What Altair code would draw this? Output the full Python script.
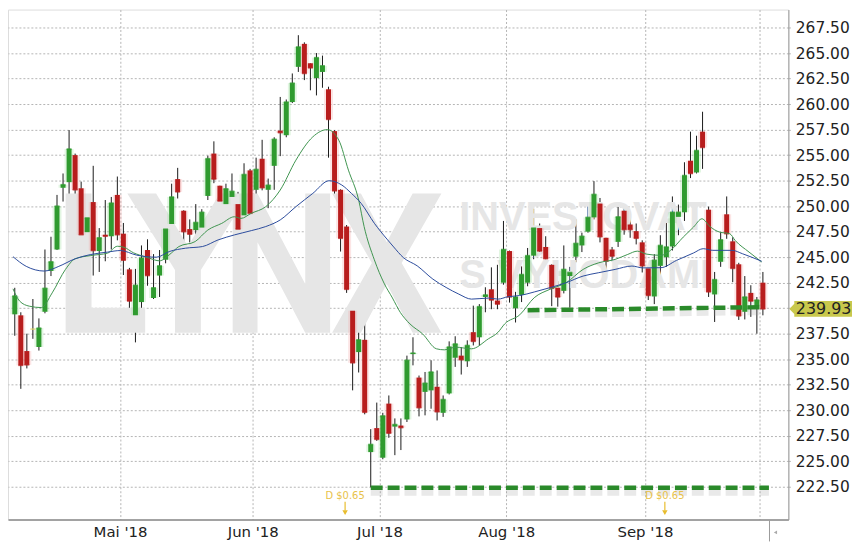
import altair as alt
import pandas as pd

# ---- OHLC data (trading-day index 0 = 5 Apr 2018) ----
opens = [239.4, 239.3, 235.8, 237.95, 236.2, 239.65, 243.65, 245.75, 251.8, 252.35,
         255.0, 251.75, 247.45, 250.4, 245.6, 247.2, 247.05, 251.1, 247.3, 243.8,
         239.3, 240.6, 245.7, 241.0, 243.2, 244.75, 248.25, 252.65, 249.55, 247.75,
         247.65, 247.9, 251.0, 255.15, 252.0, 250.2, 250.9, 250.2, 249.1, 253.5,
         251.6, 254.65, 251.6, 253.95, 257.4, 256.95, 260.2, 263.65, 265.9, 264.0,
         262.55, 263.15, 261.45, 257.35, 251.6, 248.0, 239.75, 235.7, 236.9, 225.9,
         228.25, 225.35, 230.65, 228.4, 228.5, 229.1, 235.5, 233.2, 231.8, 231.95,
         232.3, 229.75, 231.65, 235.15, 235.35, 234.8, 237.65, 237.15, 241.1, 241.85,
         240.75, 242.5, 245.6, 240.0, 241.3, 242.5, 245.15, 247.85, 246.0, 244.25,
         242.0, 241.7, 243.15, 245.05, 246.15, 247.5, 248.9, 250.25, 246.9, 245.75,
         246.5, 249.55, 248.2, 247.55, 246.45, 243.9, 241.15, 244.15, 245.0, 246.05,
         248.95, 249.4, 254.45, 253.3, 257.3, 249.65, 241.35, 244.55, 249.2, 246.55,
         244.3, 239.65, 241.5, 239.95, 242.5]
highs = [242.0, 239.6, 237.5, 240.9, 239.0, 245.75, 247.0, 251.1, 253.2, 257.45,
         255.15, 252.4, 249.4, 253.95, 247.85, 250.6, 250.9, 252.9, 248.35, 243.95,
         243.85, 246.15, 246.75, 245.3, 245.7, 248.25, 252.2, 253.75, 249.6, 248.7,
         250.2, 249.7, 254.95, 256.35, 252.0, 252.2, 253.2, 251.4, 254.2, 253.65,
         254.75, 256.5, 252.7, 256.75, 260.7, 260.45, 263.0, 266.75, 266.05, 264.0,
         265.0, 264.75, 261.7, 257.45, 251.65, 248.15, 240.35, 238.0, 238.65, 228.15,
         230.75, 229.75, 231.45, 229.2, 229.2, 235.35, 237.15, 233.4, 233.75, 234.9,
         233.9, 231.45, 236.75, 237.25, 236.2, 236.85, 240.25, 240.4, 242.05, 244.0,
         244.25, 248.55, 245.65, 241.6, 244.1, 245.9, 249.75, 248.3, 247.05, 244.3,
         242.65, 246.15, 244.05, 248.7, 247.4, 250.0, 252.45, 250.8, 246.9, 246.0,
         249.95, 249.85, 249.0, 248.3, 246.65, 244.1, 245.3, 247.15, 248.35, 250.95,
         250.15, 254.3, 257.3, 256.9, 259.25, 249.95, 243.55, 247.45, 250.95, 246.95,
         244.45, 243.15, 242.25, 241.1, 243.55]
lows = [237.3, 232.1, 234.1, 237.0, 235.85, 239.5, 243.15, 245.7, 250.45, 249.95,
        249.65, 245.5, 246.65, 243.2, 243.55, 244.6, 245.75, 246.65, 243.25, 238.75,
        236.65, 239.85, 242.2, 240.9, 241.1, 244.4, 248.0, 250.75, 246.2, 246.45,
        247.2, 246.6, 250.6, 252.25, 248.65, 248.5, 250.25, 246.25, 248.65, 248.9,
        251.0, 251.55, 249.8, 251.6, 254.9, 256.75, 260.1, 263.15, 262.35, 261.35,
        260.85, 261.6, 254.75, 251.05, 245.55, 241.5, 231.95, 233.7, 229.6, 222.45,
        227.0, 225.2, 227.3, 225.6, 226.1, 228.85, 234.4, 229.4, 229.5, 230.15,
        229.0, 229.35, 231.55, 234.25, 233.5, 234.25, 236.35, 236.35, 239.6, 239.9,
        239.9, 242.3, 240.55, 238.6, 240.6, 242.15, 244.8, 245.45, 244.8, 240.2,
        240.15, 241.45, 240.05, 244.5, 245.5, 247.4, 248.7, 246.45, 243.85, 244.6,
        246.0, 247.2, 246.9, 246.25, 243.5, 240.8, 240.4, 243.05, 244.05, 245.65,
        247.15, 248.55, 252.75, 253.2, 253.65, 241.1, 238.65, 244.05, 246.8, 242.55,
        238.85, 238.9, 239.15, 237.5, 239.3]
closes = [241.2, 234.4, 234.45, 237.95, 238.05, 241.95, 244.55, 250.0, 252.1, 255.6,
          251.6, 247.2, 248.85, 245.65, 246.9, 247.05, 250.3, 247.2, 244.7, 240.7,
          242.25, 244.9, 243.2, 242.0, 244.15, 247.75, 250.9, 251.4, 247.5, 247.25,
          248.4, 249.4, 254.65, 252.65, 250.5, 251.7, 251.45, 247.75, 253.1, 249.3,
          253.6, 251.8, 252.05, 256.55, 257.2, 260.2, 262.05, 265.6, 263.0, 263.55,
          264.55, 263.75, 258.5, 251.5, 246.85, 241.85, 234.65, 236.9, 229.8, 226.65,
          227.15, 229.45, 227.75, 228.6, 228.3, 234.9, 235.6, 230.25, 232.65, 233.75,
          229.85, 231.05, 236.2, 236.5, 234.95, 236.35, 236.75, 240.15, 241.3, 240.8,
          240.4, 245.75, 241.1, 241.1, 243.3, 245.15, 247.85, 245.6, 244.85, 241.95,
          241.1, 243.8, 243.5, 246.35, 247.05, 248.9, 251.15, 247.0, 244.6, 245.1,
          248.95, 247.7, 247.7, 246.85, 244.15, 241.25, 244.7, 246.15, 246.0, 249.4,
          249.4, 253.0, 253.2, 255.45, 255.75, 241.6, 242.8, 246.7, 247.3, 243.9,
          239.25, 241.1, 240.7, 240.8, 239.93]

# ---- moving averages (position in trading days, value) ----
ma_short_idx = [-0.3, 0.8, 2.4, 4.4, 6.2, 8.4, 10.0, 12.6, 15.4, 17.0, 18.1, 19.7, 20.7,
                22.3, 24.0, 25.6, 27.2, 29.9, 32.0, 34.3, 36.4, 37.5, 39.2, 41.6, 44.0,
                46.6, 49.4, 51.8, 53.7, 55.3, 57.0, 57.9, 59.6, 61.2, 62.6, 63.9, 65.5,
                67.6, 69.9, 71.2, 73.1, 75.7, 78.5, 80.1, 81.2, 83.7, 86.1, 88.7, 91.4,
                94.2, 96.8, 99.5, 101.6, 103.2, 104.7, 107.1, 108.7, 110.8, 112.5, 113.9,
                115.2, 116.8, 118.5, 119.4, 121.7, 123.8]
ma_short_val = [241.9, 240.7, 240.2, 240.06, 241.5, 243.8, 244.84, 245.16, 245.4, 246.07,
                245.97, 245.42, 245.2, 244.9, 244.64, 245.23, 246.04, 246.53, 247.66, 248.31,
                248.96, 248.8, 249.3, 249.95, 251.58, 254.51, 256.79, 257.5, 256.47, 253.53,
                250.6, 248.0, 244.74, 242.46, 241.0, 239.59, 238.46, 237.48, 236.02, 235.92,
                236.18, 236.02, 237.0, 237.64, 238.46, 239.35, 241.03, 241.85, 242.5, 243.8,
                244.45, 244.78, 245.27, 245.59, 245.3, 245.18, 245.67, 246.97, 247.95, 248.76,
                248.01, 247.46, 247.3, 246.64, 245.5, 244.53]
ma_long_idx = [-0.3, 1.9, 4.9, 7.3, 10.0, 12.6, 15.4, 17.5, 20.2, 23.5, 25.6, 28.3, 31.1,
               33.7, 36.4, 39.2, 41.6, 44.0, 46.6, 49.4, 52.1, 54.2, 55.8, 57.4, 59.6,
               61.8, 62.8, 64.4, 66.7, 69.3, 71.5, 73.6, 75.7, 78.5, 80.1, 81.7, 83.7,
               86.1, 88.7, 91.4, 94.2, 96.8, 99.5, 102.3, 104.1, 107.1, 109.7, 112.5,
               114.1, 115.7, 118.9, 120.6, 123.8]
ma_long_val = [245.05, 244.1, 243.64, 244.1, 244.84, 245.26, 245.5, 245.65, 245.2, 245.0,
               245.55, 245.88, 246.04, 246.69, 247.18, 247.6, 248.0, 248.65, 249.95, 251.25,
               252.49, 252.07, 251.25, 250.28, 248.32, 246.69, 246.0, 244.96, 244.15, 242.85,
               242.03, 241.38, 240.89, 240.99, 240.89, 241.12, 241.24, 241.59, 242.01, 242.5,
               243.15, 243.48, 243.8, 244.13, 243.95, 243.97, 244.69, 245.41, 245.83, 245.67,
               245.67, 245.34, 244.6]

# ---- support lines (start index, end index, start value, end value) ----
support_start = [59, 85]
support_end = [125, 124]
support_v0 = [222.4, 239.8]
support_v1 = [222.4, 240.1]

# ---- axis ticks / events ----
month_first_idx = [18, 40, 61, 82, 105, 124]
month_labels = ["Mai '18", "Jun '18", "Jul '18", "Aug '18", "Sep '18", ""]
price_ticks = [222.5 + 2.5 * i for i in range(19)]
dividend_idx = [55, 108]
dividend_text = ["D $0.65", "D $0.65"]
watermark_lines = ["INVESTOVAT", "S VÝHODAMI"]

GREEN = "#2f9b2f"
RED = "#b81d1d"
FLAT = "#e2d560"

n = len(closes)
candles = pd.DataFrame({
    "i": list(range(n)), "open": opens, "high": highs, "low": lows, "close": closes,
})
candles["dir"] = ["up" if c > o else ("down" if c < o else "flat") for o, c in zip(opens, closes)]

ma_s = pd.DataFrame({"i": ma_short_idx, "v": ma_short_val})
ma_l = pd.DataFrame({"i": ma_long_idx, "v": ma_long_val})
sup_rows = []
for k in range(len(support_start)):
    sup_rows.append({"line": k, "i": support_start[k], "v": support_v0[k]})
    sup_rows.append({"line": k, "i": support_end[k], "v": support_v1[k]})
sup = pd.DataFrame(sup_rows)
div = pd.DataFrame({"i": [d - 0.25 for d in dividend_idx], "t": dividend_text})
last_close = closes[-1]
last = pd.DataFrame({"v": [last_close], "t": [f"{last_close:.2f}"]})

tick_vals = [m - 0.55 for m in month_first_idx]
label_expr = " : ".join(
    f'abs(datum.value - ({v:.2f})) < 0.001 ? "{lab}"' for v, lab in zip(tick_vals, month_labels)
) + ' : ""'
# the last-price tag covers the price label next to it
y_label_expr = f'abs(datum.value - {last_close}) < 1.25 ? "" : format(datum.value, ".2f")'

xs = alt.Scale(domain=[-0.3, 127.4], nice=False, zero=False)
ys = alt.Scale(domain=[219.29, 269.26], nice=False, zero=False)

X_AX = alt.Axis(values=tick_vals, labelExpr=label_expr, grid=True, gridDash=[2, 2],
                gridColor="#b4b4b4", ticks=False, domainColor="#8a8a8a",
                domainWidth=1.5, labelFontSize=15, labelFont="DejaVu Sans",
                labelColor="#222", labelPadding=5, labelFlush=False,
                labelOverlap=False)
Y_AX = alt.Axis(orient="right", values=price_ticks, labelExpr=y_label_expr, grid=True,
                gridDash=[2, 2], gridColor="#b4b4b4", tickDash=[2, 2],
                tickColor="#b4b4b4", tickSize=4, domainColor="#999",
                labelFontSize=15.5, labelOverlap=False, labelFont="DejaVu Sans",
                labelColor="#222", labelPadding=3)


def xq(field="i"):
    return alt.X(f"{field}:Q", scale=xs, axis=X_AX, title=None)


def yq(field):
    return alt.Y(f"{field}:Q", scale=ys, axis=Y_AX, title=None)


def dir_color(rng):
    return alt.Color("dir:N", scale=alt.Scale(domain=["up", "down", "flat"], range=rng), legend=None)


# watermark LYNX as polygon shapes (plot-relative pixels, 1 unit = 1px)
lynx_path = (
    "M58,185 L84,185 L84,300 L138,300 L138,325 L58,325 Z "
    "M120,185 L149,185 L181,238 L213,185 L242,185 L194,262 L194,325 L168,325 L168,262 Z "
    "M226,185 L251,185 L299,276 L299,185 L324,185 L324,325 L299,325 L251,234 L251,325 L226,325 Z "
    "M326,185 L355,185 L381,234 L407,185 L436,185 L396,255 L436,325 L407,325 L381,276 L355,325 L326,325 L366,255 Z"
)
wm_df = pd.DataFrame({"a": [0]})
wm_logo = alt.Chart(wm_df).mark_point(shape=lynx_path, filled=True, size=4, color="#e6e6e6",
                                      opacity=1, strokeWidth=0).encode(
    x=alt.value(0), y=alt.value(0))
wm_text = alt.Chart(pd.DataFrame({"t": watermark_lines, "yy": [222, 280]})).mark_text(
    font="Liberation Sans", fontWeight="bold",
    fontSize=40, color="#e6e6e6", align="left", baseline="alphabetic").encode(
    x=alt.value(454), y=alt.Y("yy:Q", scale=None), text="t:N")

base = alt.Chart(candles)
glow = base.mark_bar(size=9, opacity=0.3).encode(
    x=xq(), y=yq("open"), y2="close:Q", color=dir_color(["#9ee09e", "#f4a8a8", "#f0e8a0"]))
wick = base.mark_rule(color="#1a1a1a", strokeWidth=1).encode(x=xq(), y=yq("low"), y2="high:Q")
body = base.mark_bar(size=5).encode(
    x=xq(), y=yq("open"), y2="close:Q", color=dir_color([GREEN, RED, FLAT]))
close_tick = base.mark_tick(orient="horizontal", size=5, thickness=1.6).encode(
    x=xq(), y=yq("close"), color=dir_color([GREEN, RED, FLAT]))

line_s = alt.Chart(ma_s).mark_line(color="#3f9450", strokeWidth=1, interpolate="monotone").encode(
    x=xq(), y=yq("v"))
line_l = alt.Chart(ma_l).mark_line(color="#2b4c9c", strokeWidth=1, interpolate="monotone").encode(
    x=xq(), y=yq("v"))

sup_shadow = alt.Chart(sup).mark_line(color="#9a9a9a", strokeWidth=6, opacity=0.22,
                                      strokeDash=[12, 5], yOffset=5).encode(
    x=xq(), y=yq("v"), detail="line:N")
sup_line = alt.Chart(sup).mark_line(color="#2a8a2a", strokeWidth=4.5, strokeDash=[12, 5]).encode(
    x=xq(), y=yq("v"), detail="line:N")

div_text = alt.Chart(div).mark_text(fontSize=10, color="#e8c24a", font="DejaVu Sans").encode(
    x=xq(), y=alt.value(489), text="t:N")
div_rule = alt.Chart(div).mark_rule(color="#e8bd2e", strokeWidth=1.2).encode(
    x=xq(), y=alt.value(495), y2=alt.value(504))
div_head = alt.Chart(div).mark_point(shape="triangle-down", filled=True, size=30, color="#e8bd2e",
                                     opacity=1).encode(x=xq(), y=alt.value(506))

tag_path = "M -0.984 0 L -0.83 -0.16 L -0.83 -0.25 L 0.984 -0.25 L 0.984 0.25 L -0.83 0.25 L -0.83 0.16 Z"
tag = alt.Chart(last).mark_point(shape=tag_path, filled=True, size=4096, color="#c9c84c", opacity=1,
                                 strokeWidth=0).encode(x=alt.value(817.5), y=yq("v"))
tag_text = alt.Chart(last).mark_text(fontSize=16, color="#222", font="DejaVu Sans").encode(
    x=alt.value(820.5), y=yq("v"), text="t:N")

# small scroll marker under the right end of the time axis
scroll_rule = alt.Chart(wm_df).mark_rule(color="#9a9a9a", strokeWidth=1).encode(
    x=alt.value(766), y=alt.value(514), y2=alt.value(535))
scroll_arrow = alt.Chart(wm_df).mark_point(shape="triangle-left", filled=True, size=14,
                                           color="#aaaaaa", opacity=1).encode(
    x=alt.value(772), y=alt.value(526))

chart = alt.layer(
    wick, wm_logo, wm_text, sup_shadow, glow, body, close_tick, line_s, line_l, sup_line,
    div_text, div_rule, div_head, tag, tag_text, scroll_rule, scroll_arrow
).resolve_scale(color="independent").properties(
    width=785, height=513, padding={"left": 0, "top": 0, "right": 0, "bottom": 0}
).configure_view(stroke="#c4c4c4", strokeWidth=1).configure(background="white")

chart.save("out.html", embed_options={"renderer": "svg", "actions": False})
